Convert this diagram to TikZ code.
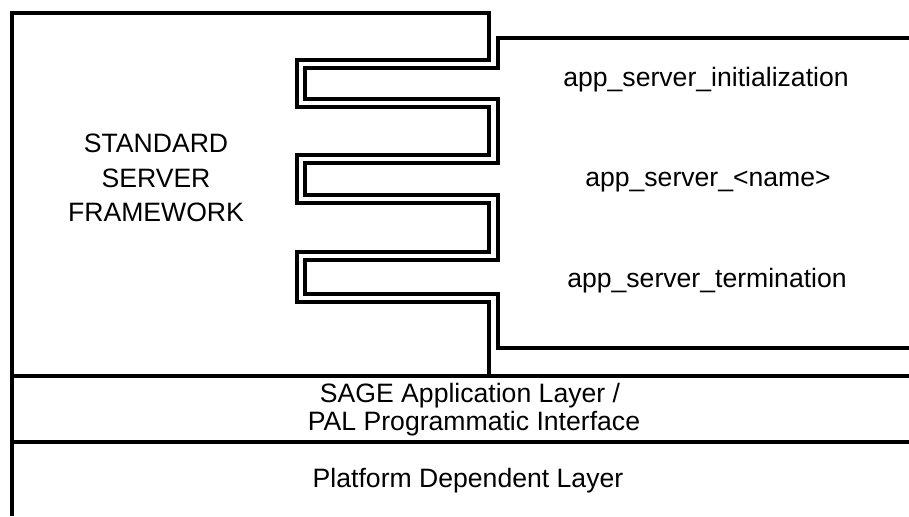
\documentclass[tikz,border=0pt]{standalone}
\usepackage{fontspec}
\setmainfont{Liberation Sans}
\usepackage{tikz}
\usetikzlibrary{positioning}
\definecolor{inkblack}{HTML}{000000}
\definecolor{paperwhite}{HTML}{FFFFFF}
\tikzstyle{wall} = [line width=1.7pt, draw=inkblack, line join=miter]
\tikzstyle{boxtext} = [font=\fontsize{13.3}{17.25}\selectfont, text=inkblack, align=center, inner sep=0pt]

\begin{document}
\begin{tikzpicture}[x=0.5pt, y=-0.5pt]
    \fill[paperwhite] (0,0) rectangle (909,516);
    \useasboundingbox (0,0) rectangle (909,516);
    % framework outline, its fingers reach right
    \draw[wall] (12,516) -- (12,13) -- (489,13) -- (489,60) -- (297,60) -- (297,107) -- (489,107) -- (489,155) -- (297,155) -- (297,203) -- (489,203) -- (489,252) -- (297,252) -- (297,302) -- (489,302) -- (489,376);
    % application box, its teeth reach left
    \draw[wall] (909,38) -- (498,38) -- (498,68) -- (305,68) -- (305,99) -- (498,99) -- (498,163) -- (305,163) -- (305,195) -- (498,195) -- (498,260) -- (305,260) -- (305,294) -- (498,294) -- (498,348) -- (909,348);
    % layer dividers
    \draw[wall] (12,376) -- (909,376);
    \draw[wall] (12,442) -- (909,442);

    \node[boxtext] (framework) at (156,178) {STANDARD\\SERVER\\FRAMEWORK};
    \node[boxtext, anchor=base] (init) at (706,86) {app\_server\_initialization};
    \node[boxtext, anchor=base] (name) at (708,186) {app\_server\_<name>};
    \node[boxtext, anchor=base] (term) at (707,287) {app\_server\_termination};
    \node[boxtext, anchor=base] (sage) at (470,402) {SAGE Application Layer /};
    \node[boxtext, anchor=base] (pal) at (474,430) {PAL Programmatic Interface};
    \node[boxtext, anchor=base] (platform) at (468,487) {Platform Dependent Layer};
\end{tikzpicture}
\end{document}
